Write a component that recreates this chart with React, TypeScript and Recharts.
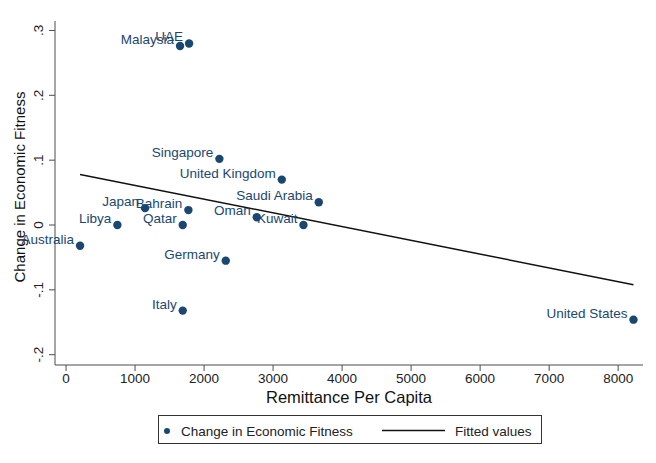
import React from 'react';
import { ScatterChart, Scatter, XAxis, YAxis, Legend } from 'recharts';

// Countries, remittance per capita and change in economic fitness
const countries = [
  'Malaysia', 'UAE', 'Singapore', 'United Kingdom', 'Saudi Arabia', 'Japan', 'Bahrain',
  'Oman', 'Kuwait', 'Libya', 'Qatar', 'Australia', 'Germany', 'Italy', 'United States',
];
const remittance = [1652, 1783, 2222, 3126, 3662, 1145, 1773, 2763, 3440, 744, 1691, 203, 2314, 1691, 8222];
const fitnessChange = [0.276, 0.28, 0.102, 0.07, 0.035, 0.026, 0.023, 0.012, 0, 0, 0, -0.032, -0.055, -0.132, -0.146];

// Fitted regression line endpoints
const fittedX = [203, 8222];
const fittedY = [0.078, -0.092];

const xTicks = [0, 1000, 2000, 3000, 4000, 5000, 6000, 7000, 8000];
const yTicks = [-0.2, -0.1, 0, 0.1, 0.2, 0.3];
const yTickLabels = ['-.2', '-.1', '0', '.1', '.2', '.3'];

const NAVY = '#1a476f';
const AXIS = '#4d4d4d';
const FONT = '"Liberation Sans", Arial, sans-serif';

const points = countries.map((country, i) => ({ country, x: remittance[i], y: fitnessChange[i] }));
const fitted = fittedX.map((x, i) => ({ x, y: fittedY[i] }));

const CountryPoint = (props: any) => {
  const { cx, cy, payload } = props;
  return (
    <g>
      <circle cx={cx} cy={cy} r={4.2} fill={NAVY} />
      <text x={cx - 6} y={cy - 2} textAnchor="end" fontSize={13.5} fontFamily={FONT} fill={NAVY}>
        {payload.country}
      </text>
    </g>
  );
};

const YTick = (props: any) => {
  const { x, y, payload } = props;
  const idx = yTicks.indexOf(payload.value);
  return (
    <text
      transform={`translate(${x - 4.5},${y}) rotate(-90)`}
      textAnchor="middle"
      fontSize={13.5}
      fontFamily={FONT}
      fill="#222"
    >
      {idx >= 0 ? yTickLabels[idx] : ''}
    </text>
  );
};

const XTick = (props: any) => {
  const { x, y, payload } = props;
  return (
    <text x={x} y={y + 10} textAnchor="middle" fontSize={13.5} fontFamily={FONT} fill="#222">
      {payload.value}
    </text>
  );
};

const LegendBox = () => (
  <svg width={384} height={29} style={{ display: 'block' }}>
    <rect x={0.5} y={0.5} width={383} height={28} fill="#fff" stroke="#333" strokeWidth={1} />
    <circle cx={9} cy={16} r={3} fill={NAVY} />
    <text x={23} y={20.5} fontSize={13.5} fontFamily={FONT} fill="#222">
      Change in Economic Fitness
    </text>
    <line x1={224} x2={287} y1={15.5} y2={15.5} stroke="#111" strokeWidth={1.5} />
    <text x={297} y={20.5} fontSize={13.5} fontFamily={FONT} fill="#222">
      Fitted values
    </text>
  </svg>
);

export default function App() {
  return (
    <div style={{ position: 'absolute', left: 0, top: 0, width: 656, height: 463, background: '#fff' }}>
      <ScatterChart width={656} height={463} margin={{ top: 21, right: 13, left: 0, bottom: 19 }}>
        <XAxis
          type="number"
          dataKey="x"
          domain={[-160, 8360]}
          ticks={xTicks}
          height={50}
          stroke={AXIS}
          tickSize={6}
          tickLine={{ stroke: AXIS }}
          tick={<XTick />}
          label={{
            content: () => (
              <text x={349} y={403} textAnchor="middle" fontSize={16.5} fontFamily={FONT} fill="#111">
                Remittance Per Capita
              </text>
            ),
          }}
        />
        <YAxis
          type="number"
          dataKey="y"
          domain={[-0.2159, 0.3146]}
          ticks={yTicks}
          width={55}
          stroke={AXIS}
          tickSize={6}
          tickLine={{ stroke: AXIS }}
          tick={<YTick />}
          label={{
            content: () => (
              <text
                transform="translate(25,187) rotate(-90)"
                textAnchor="middle"
                fontSize={15}
                fontFamily={FONT}
                fill="#111"
              >
                Change in Economic Fitness
              </text>
            ),
          }}
        />
        <Legend
          content={<LegendBox />}
          wrapperStyle={{ position: 'absolute', left: 158, top: 415, width: 384, height: 29 }}
        />
        <Scatter
          name="Fitted values"
          data={fitted}
          line={{ stroke: '#111', strokeWidth: 1.5 }}
          shape={() => <g />}
          isAnimationActive={false}
        />
        <Scatter
          name="Change in Economic Fitness"
          data={points}
          fill={NAVY}
          shape={<CountryPoint />}
          isAnimationActive={false}
        />
      </ScatterChart>
    </div>
  );
}
